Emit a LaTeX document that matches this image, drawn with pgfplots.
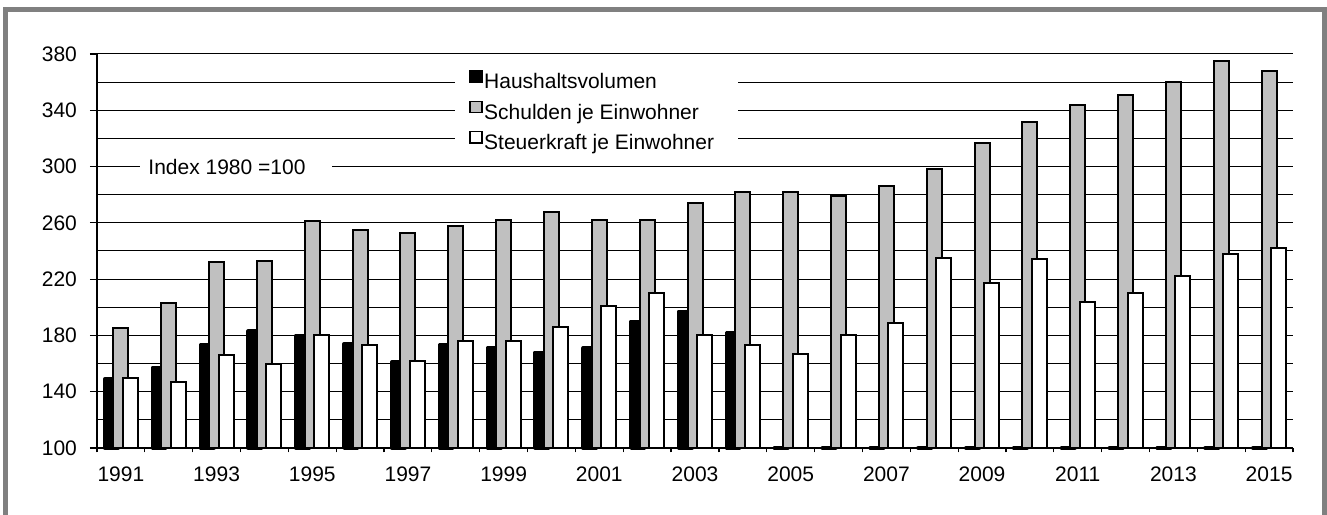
\documentclass[border=0pt]{standalone}
\usepackage{pgfplots}
\pgfplotsset{compat=1.18}
\usepackage{pgfplotstable}
\usepackage{fontspec}
\setmainfont{Liberation Sans}
\definecolor{barGray}{RGB}{192,192,192}
\definecolor{frameGray}{RGB}{128,128,128}
\pgfplotstableread{
x year haus schulden steuer
0 1991 149 185 150
1 1992 157 203 147
2 1993 173 232 166
3 1994 183 233 160
4 1995 180 261 180
5 1996 174 255 173
6 1997 161 253 162
7 1998 173 258 176
8 1999 171 262 176
9 2000 168 268 186
10 2001 171 262 201
11 2002 190 262 210
12 2003 197 274 180
13 2004 182 282 173
14 2005 100 282 167
15 2006 100 279 180
16 2007 100 286 189
17 2008 100 298 235
18 2009 100 317 217
19 2010 100 332 234
20 2011 100 344 204
21 2012 100 351 210
22 2013 100 360 222
23 2014 100 375 238
24 2015 100 368 242
}\datatable
\begin{document}
\begin{tikzpicture}[x=1pt,y=1pt]
\path[use as bounding box] (0,0) rectangle (663.5,257);
\begin{scope}
\clip (0,0) rectangle (663.5,257);
\draw[frameGray, line width=2.6pt] (2.75,-10) -- (2.75,252.25) -- (662.2,252.25) -- (662.2,-10);
\end{scope}
\begin{axis}[
  at={(48.5pt,33pt)}, anchor=south west,
  scale only axis, width=598pt, height=197pt,
  xmin=-0.5, xmax=24.5, ymin=0, ymax=280,
  enlargelimits=false, clip=false,
  ybar,
  axis x line*=bottom, axis y line*=left,
  axis line style={black, line width=0.6pt},
  tick align=outside,
  major tick length=3.5pt, minor tick length=2.2pt,
  xtick={0,2,...,24},
  xticklabels={1991,1993,1995,1997,1999,2001,2003,2005,2007,2009,2011,2013,2015},
  minor xtick={-0.5,0.5,...,24.5},
  major x tick style={draw=none},
  minor x tick style={black, line width=0.6pt},
  ytick={0,40,...,280},
  yticklabels={100,140,180,220,260,300,340,380},
  minor ytick={20,60,...,260},
  minor y tick style={draw=none},
  major y tick style={black, line width=0.6pt},
  ymajorgrids, yminorgrids,
  major grid style={black, line width=0.5pt},
  minor grid style={black, line width=0.5pt},
  tick label style={font=\fontsize{10.5pt}{12pt}\selectfont},
  yticklabel style={xshift=-3pt},
  xticklabel style={yshift=-2.3pt},
  legend style={at={(rel axis cs:0.2993,0.9746)}, anchor=north west,
    draw=none, fill=white, inner xsep=7pt, inner ysep=3pt, row sep=2.9pt,
    font=\fontsize{10.5pt}{12pt}\selectfont,
    nodes={inner sep=0.8pt, text height=7.6pt, text depth=2.2pt}},
  legend cell align=left,
  legend image code/.code={\draw[#1,/tikz/.cd,line width=0.6pt,line join=miter] (0pt,0.4pt) rectangle (6pt,6.2pt);},
]
\addplot[fill=black, draw=black, line width=1.8pt, line join=round, bar width=6.7pt, bar shift=-4.75pt]
  table[x=x, y expr=\thisrow{haus}-100] {\datatable};
\addlegendentry{Haushaltsvolumen}
\addplot[fill=barGray, draw=black, line width=1pt, bar width=7.5pt, bar shift=0pt]
  table[x=x, y expr=\thisrow{schulden}-100] {\datatable};
\addlegendentry{Schulden je Einwohner}
\addplot[fill=white, draw=black, line width=1pt, bar width=7.5pt, bar shift=4.75pt]
  table[x=x, y expr=\thisrow{steuer}-100] {\datatable};
\addlegendentry{Steuerkraft je Einwohner\hspace*{4pt}\mbox{}}
\node[fill=white, anchor=west, inner xsep=0pt, inner ysep=2pt,
  font=\fontsize{10.5pt}{12pt}\selectfont] at (axis cs:0.4,200)
  {\hspace*{4pt}Index 1980 =100\hspace*{13pt}\mbox{}};
\end{axis}
\end{tikzpicture}
\end{document}
